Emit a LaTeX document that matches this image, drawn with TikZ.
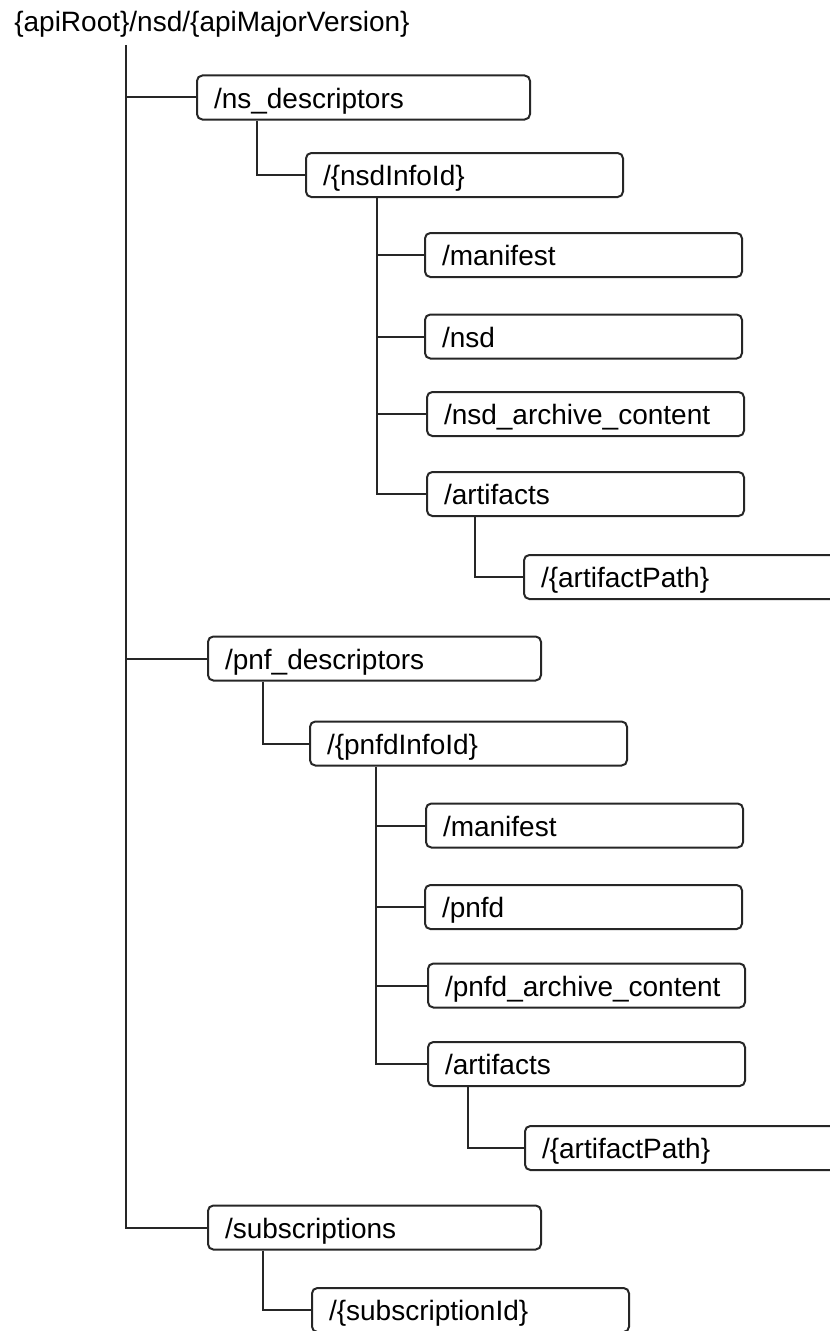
\documentclass[tikz,border=0pt]{standalone}
\usepackage{fontspec}
\setmainfont{Liberation Sans}
\usetikzlibrary{calc}

\begin{document}
\begin{tikzpicture}[x=0.75pt,y=0.75pt,yscale=-1,xscale=1,
    res/.style={draw=black!85, line width=1.5pt, rounded corners=4pt, anchor=west,
      minimum height=33pt, inner xsep=12.75pt, inner ysep=0pt, align=left,
      text height=19pt, text depth=3.2pt, font=\fontsize{21}{25}\selectfont},
    lvlone/.style={res, text width=224.25pt},
    lvltwo/.style={res, text width=212.25pt},
    lvlwide/.style={res, text width=240pt},
    link/.style={draw=black!85, line width=1.5pt}]
    %set diagram area 830 x 1331
    \clip (0,0) rectangle (830,1331);

    % Root text
    \node[anchor=base west, inner sep=0pt, font=\fontsize{21}{25}\selectfont] (root) at (14,32) {\{apiRoot\}/nsd/\{apiMajorVersion\}};
    \coordinate (roottrunk) at (126,45);

    % ns descriptors
    \node[lvlone] (nsdesc) at (196,97.5) {/ns\_descriptors};
    \node[lvltwo] (nsdinfo) at (305,175) {/\{nsdInfoId\}};
    \node[lvltwo] (nsdman) at (424,255) {/manifest};
    \node[lvltwo] (nsdnsd) at (424,336.5) {/nsd};
    \node[lvltwo] (nsdarc) at (426,414) {/nsd\_archive\_content};
    \node[lvltwo] (nsdart) at (426,494) {/artifacts};
    \node[lvlwide] (nsdpath) at (523,577) {/\{artifactPath\}};

    % pnf descriptors
    \node[lvlone] (pnfdesc) at (207,658.5) {/pnf\_descriptors};
    \node[lvltwo] (pnfinfo) at (309,743.5) {/\{pnfdInfoId\}};
    \node[lvltwo] (pnfman) at (425,825.5) {/manifest};
    \node[lvltwo] (pnfpnfd) at (424,907) {/pnfd};
    \node[lvltwo] (pnfarc) at (427,985.5) {/pnfd\_archive\_content};
    \node[lvltwo] (pnfart) at (427,1064) {/artifacts};
    \node[lvlwide] (pnfpath) at (524,1148) {/\{artifactPath\}};

    % subscriptions
    \node[lvlone] (subs) at (207,1227.5) {/subscriptions};
    \node[lvltwo] (subsid) at (311,1310) {/\{subscriptionId\}};

    % Tree lines
    \draw[link] (roottrunk) |- (subs.west);
    \foreach \n in {nsdesc,pnfdesc} \draw[link] (roottrunk |- \n.west) -- (\n.west);

    \draw[link] ($(nsdesc.south west)+(61,0)$) |- (nsdinfo.west);
    \coordinate (nsdtrunk) at ($(nsdinfo.south west)+(72,0)$);
    \draw[link] (nsdtrunk) |- (nsdart.west);
    \foreach \n in {nsdman,nsdnsd,nsdarc} \draw[link] (nsdtrunk |- \n.west) -- (\n.west);
    \draw[link] ($(nsdart.south west)+(49,0)$) |- (nsdpath.west);

    \draw[link] ($(pnfdesc.south west)+(56,0)$) |- (pnfinfo.west);
    \coordinate (pnftrunk) at ($(pnfinfo.south west)+(67,0)$);
    \draw[link] (pnftrunk) |- (pnfart.west);
    \foreach \n in {pnfman,pnfpnfd,pnfarc} \draw[link] (pnftrunk |- \n.west) -- (\n.west);
    \draw[link] ($(pnfart.south west)+(41,0)$) |- (pnfpath.west);

    \draw[link] ($(subs.south west)+(56,0)$) |- (subsid.west);
\end{tikzpicture}
\end{document}
